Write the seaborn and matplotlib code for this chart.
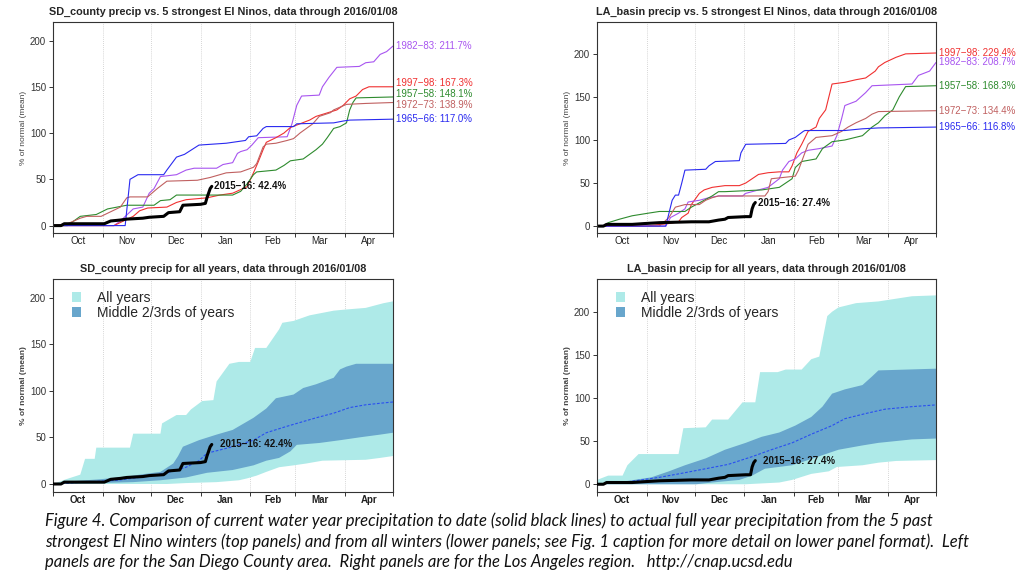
import numpy as np
import pandas as pd
import matplotlib
matplotlib.use("Agg")
import matplotlib.pyplot as plt
import seaborn as sns
from matplotlib.patches import Patch
from matplotlib.ticker import FixedLocator, NullFormatter, FixedFormatter

# ---------------- data (day of water year, 0 = Oct 1; values = % of normal) ----------------
month_edges = [0, 31, 61, 92, 123, 151, 182, 212]
month_mids = [15.5, 46, 76.5, 107.5, 137, 166.5, 197]
month_names = ["Oct", "Nov", "Dec", "Jan", "Feb", "Mar", "Apr"]
yticks = [0, 50, 100, 150, 200]

# --- San Diego County, 5 strongest El Ninos ---
sd_1982_days = [0, 38, 42, 50, 56, 60, 63, 67, 77, 83, 88, 102, 106, 112, 115, 117, 121, 124, 128, 146, 149, 152, 155, 166, 168, 172, 177, 191, 195, 200, 204, 208, 212]
sd_1982_vals = [0, 0, 5, 18, 20, 35, 40, 53, 55, 60, 62, 62, 66, 68, 78, 80, 82, 87, 95, 96, 110, 130, 140, 141, 150, 160, 171, 172, 176, 177, 185, 188, 194]
sd_1997_days = [0, 38, 44, 50, 54, 59, 71, 77, 83, 96, 104, 112, 121, 125, 128, 131, 133, 139, 144, 148, 154, 160, 164, 177, 181, 185, 189, 193, 197, 212]
sd_1997_vals = [0, 0, 5, 10, 16, 19, 20, 25, 28, 30, 33, 35, 42, 57, 69, 82, 90, 95, 100, 106, 110, 114, 118, 125, 130, 137, 140, 147, 150, 150]
sd_1957_days = [0, 9, 13, 17, 27, 34, 46, 63, 67, 73, 77, 112, 117, 121, 125, 127, 139, 144, 148, 156, 160, 164, 168, 171, 175, 179, 183, 185, 187, 189, 212]
sd_1957_vals = [0, 0, 5, 10, 12, 18, 22, 22, 27, 28, 33, 33, 37, 45, 55, 58, 60, 65, 70, 72, 77, 82, 88, 95, 105, 107, 111, 125, 133, 138, 139]
sd_1972_days = [0, 9, 17, 21, 30, 36, 42, 46, 48, 59, 65, 71, 90, 98, 108, 117, 125, 127, 131, 133, 139, 146, 150, 154, 162, 166, 173, 175, 183, 195, 212]
sd_1972_vals = [0, 2, 8, 10, 10, 15, 20, 30, 31, 31, 40, 48, 49, 52, 57, 58, 63, 67, 85, 88, 89, 92, 94, 100, 110, 118, 122, 125, 131, 132, 133]
sd_1965_days = [0, 45, 48, 53, 69, 71, 77, 82, 91, 108, 120, 122, 127, 131, 133, 150, 152, 175, 181, 185, 212]
sd_1965_vals = [0, 0, 50, 55, 55, 60, 74, 77, 87, 89, 92, 96, 97, 105, 107, 107, 110, 111, 113, 114, 115]
sd_2015_days = [0, 5, 7, 32, 36, 42, 46, 56, 60, 69, 72, 79, 81, 92, 95, 96, 98, 99]
sd_2015_vals = [0, 0, 2, 2, 5, 6, 7, 8, 9, 10, 14, 15, 22, 23, 24, 30, 40, 42.4]

# --- LA basin, 5 strongest El Ninos ---
la_1997_days = [0, 30, 45, 51, 53, 57, 59, 64, 67, 72, 80, 89, 93, 97, 101, 107, 114, 120, 122, 125, 128, 132, 137, 139, 141, 143, 145, 147, 155, 162, 168, 174, 176, 180, 187, 193, 212]
la_1997_vals = [0, 0, 3, 5, 10, 15, 25, 38, 42, 45, 47, 47, 50, 55, 60, 62, 63, 63, 70, 85, 95, 110, 115, 125, 130, 135, 150, 165, 167, 170, 172, 180, 185, 190, 196, 200, 201]
la_1982_days = [0, 43, 46, 51, 55, 57, 64, 70, 76, 91, 93, 101, 107, 114, 116, 120, 124, 128, 132, 139, 147, 150, 153, 155, 162, 168, 172, 197, 201, 208, 212]
la_1982_vals = [0, 0, 10, 15, 20, 28, 30, 33, 35, 35, 38, 42, 45, 55, 65, 75, 78, 85, 88, 90, 93, 105, 125, 140, 145, 155, 163, 165, 175, 180, 190]
la_1957_days = [0, 4, 7, 14, 22, 32, 39, 55, 59, 72, 76, 80, 103, 114, 118, 122, 124, 128, 137, 141, 147, 155, 166, 172, 176, 180, 185, 189, 193, 212]
la_1957_vals = [0, 0, 4, 8, 12, 15, 17, 17, 22, 35, 40, 40, 42, 45, 50, 55, 68, 75, 78, 90, 98, 100, 105, 115, 120, 128, 135, 150, 162, 163]
la_1972_days = [0, 39, 45, 49, 55, 64, 68, 72, 76, 105, 107, 109, 124, 126, 128, 132, 137, 147, 153, 157, 162, 168, 172, 176, 212]
la_1972_vals = [0, 0, 10, 22, 25, 25, 30, 33, 35, 35, 40, 55, 58, 65, 75, 95, 103, 105, 110, 115, 120, 125, 130, 133, 134]
la_1965_days = [0, 43, 45, 47, 49, 51, 53, 55, 68, 70, 74, 89, 90, 93, 118, 120, 124, 129, 130, 155, 166, 176, 212]
la_1965_vals = [0, 0, 15, 30, 36, 36, 50, 65, 66, 70, 75, 76, 85, 95, 96, 100, 103, 110, 111, 111, 113, 114, 115]
la_2015_days = [0, 4, 6, 22, 30, 39, 59, 70, 76, 80, 82, 93, 96, 97, 98, 99]
la_2015_vals = [0, 0, 2, 2, 3, 4, 5, 5, 7, 8, 10, 11, 11, 20, 25, 27.4]

# --- all-years envelopes ---
sd_all_hi_days = [0, 8, 17, 20, 26, 27, 48, 50, 67, 68, 77, 83, 86, 93, 100, 102, 110, 116, 123, 126, 133, 141, 143, 150, 160, 175, 181, 195, 206, 212]
sd_all_hi_vals = [0, 5, 10, 27, 27, 39, 39, 54, 54, 65, 74, 74, 80, 89, 90, 110, 129, 131, 131, 146, 146, 166, 173, 175, 181, 186, 187, 189, 194, 196]
sd_all_lo_days = [0, 71, 83, 102, 116, 121, 127, 133, 141, 150, 158, 168, 195, 204, 212]
sd_all_lo_vals = [0, 0, 1, 2, 4, 6, 9, 13, 18, 20, 22, 25, 26, 28, 30]
sd_mid_hi_days = [0, 12, 29, 46, 54, 67, 75, 78, 81, 91, 102, 112, 125, 133, 139, 150, 156, 164, 175, 179, 183, 189, 212]
sd_mid_hi_vals = [0, 3, 5, 8, 10, 13, 22, 30, 40, 47, 53, 58, 71, 81, 92, 96, 103, 107, 114, 123, 126, 129, 129]
sd_mid_lo_days = [0, 29, 50, 67, 83, 96, 112, 125, 133, 141, 148, 152, 166, 179, 191, 204, 212]
sd_mid_lo_vals = [0, 1, 2, 4, 7, 12, 15, 20, 25, 28, 35, 42, 44, 47, 50, 53, 55]
sd_mean_days = [0, 19, 40, 58, 71, 83, 91, 96, 112, 125, 133, 146, 154, 164, 175, 185, 195, 206, 212]
sd_mean_vals = [0, 2, 4, 8, 12, 18, 25, 33, 40, 47, 55, 62, 66, 71, 76, 82, 85, 87, 88]

la_all_hi_days = [0, 7, 16, 19, 26, 51, 54, 68, 72, 82, 91, 99, 102, 113, 118, 128, 134, 139, 144, 147, 151, 162, 176, 197, 212]
la_all_hi_vals = [5, 10, 10, 22, 35, 35, 65, 66, 75, 75, 95, 95, 130, 130, 133, 133, 145, 148, 195, 200, 205, 210, 212, 218, 219]
la_all_lo_days = [0, 93, 114, 122, 134, 145, 150, 166, 176, 187, 212]
la_all_lo_vals = [0, 0, 2, 5, 12, 15, 20, 22, 25, 27, 28]
la_mid_hi_days = [0, 16, 34, 45, 55, 68, 80, 93, 103, 114, 124, 134, 141, 147, 155, 166, 172, 176, 212]
la_mid_hi_vals = [0, 3, 8, 15, 22, 30, 40, 48, 55, 60, 68, 78, 90, 105, 110, 115, 125, 132, 134]
la_mid_lo_days = [0, 62, 72, 89, 97, 105, 122, 132, 143, 151, 166, 176, 197, 212]
la_mid_lo_vals = [0, 0, 2, 5, 10, 18, 22, 28, 35, 40, 45, 48, 52, 53]
la_mean_days = [0, 20, 39, 51, 68, 82, 97, 109, 122, 134, 147, 155, 168, 180, 197, 212]
la_mean_vals = [0, 3, 8, 12, 18, 23, 32, 40, 48, 58, 68, 76, 82, 87, 90, 92]

sd_labels = {"1982−83": "211.7%", "1997−98": "167.3%", "1957−58": "148.1%", "1972−73": "138.9%", "1965−66": "117.0%"}
la_labels = {"1997−98": "229.4%", "1982−83": "208.7%", "1957−58": "168.3%", "1972−73": "134.4%", "1965−66": "116.8%"}
sd_current = "2015−16: 42.4%"
la_current = "2015−16: 27.4%"

colors = {"1982−83": "#a855f0", "1997−98": "#f03030", "1957−58": "#2e8b2e",
          "1972−73": "#c06060", "1965−66": "#2a2af0"}
light_col = "#aeeae8"
dark_col = "#68a6cc"

sd_series = {"1982−83": (sd_1982_days, sd_1982_vals), "1997−98": (sd_1997_days, sd_1997_vals),
             "1957−58": (sd_1957_days, sd_1957_vals), "1972−73": (sd_1972_days, sd_1972_vals),
             "1965−66": (sd_1965_days, sd_1965_vals)}
la_series = {"1997−98": (la_1997_days, la_1997_vals), "1982−83": (la_1982_days, la_1982_vals),
             "1957−58": (la_1957_days, la_1957_vals), "1972−73": (la_1972_days, la_1972_vals),
             "1965−66": (la_1965_days, la_1965_vals)}

# ---------------- style ----------------
sns.set_style("white")
plt.rcParams["font.family"] = ["Liberation Sans", "DejaVu Sans"]

fig = plt.figure(figsize=(10.24, 5.76), dpi=100)
W, H = 1024, 576


def add_ax(l, t, r, b):
    return fig.add_axes([l / W, 1 - b / H, (r - l) / W, (b - t) / H])


ax_tl = add_ax(53, 22, 393, 233)
ax_tr = add_ax(597, 22, 936, 233)
ax_bl = add_ax(53, 279, 393, 492)
ax_br = add_ax(597, 279, 936, 492)


def style_axes(ax, ylim, title, bold):
    ax.set_xlim(0, 212)
    ax.set_ylim(*ylim)
    ax.xaxis.set_major_locator(FixedLocator(month_edges))
    ax.xaxis.set_major_formatter(NullFormatter())
    ax.xaxis.set_minor_locator(FixedLocator(month_mids))
    ax.xaxis.set_minor_formatter(FixedFormatter(month_names))
    ax.set_yticks(yticks)
    fw = "bold" if bold else "normal"
    ax.tick_params(axis="x", which="major", length=3, width=0.7, color="#333333", direction="out", bottom=True)
    ax.tick_params(axis="x", which="minor", length=0, labelsize=7, labelcolor="#222222", pad=2)
    ax.tick_params(axis="y", length=3, width=0.7, color="#333333", direction="out", left=True,
                   labelsize=7, labelcolor="#333333", pad=2)
    for lab in ax.xaxis.get_minorticklabels():
        lab.set_fontweight(fw)
    for x in month_edges[1:-1]:
        ax.axvline(x, color="#c8c8c8", lw=0.6, ls=(0, (1, 1.5)), zorder=0)
    for s in ax.spines.values():
        s.set_visible(True)
        s.set_color("#333333")
        s.set_linewidth(0.8)
    ax.set_ylabel("% of normal (mean)", fontsize=6, color="#444444", fontweight=fw, labelpad=2)
    ax.set_xlabel("")
    ax.set_title(title, fontsize=7.8, fontweight="bold", pad=5)


def top_panel(ax, series, labels, cur_days, cur_vals, cur_label, ylim, title, nudges):
    for name, (d, v) in series.items():
        sns.lineplot(x=d, y=v, ax=ax, color=colors[name], lw=0.8, estimator=None, sort=False)
        ax.text(214, v[-1] + nudges.get(name, 0), f"{name}: {labels[name]}", color=colors[name],
                fontsize=7, va="center", ha="left", clip_on=False)
    sns.lineplot(x=cur_days, y=cur_vals, ax=ax, color="black", lw=2.2, estimator=None, sort=False)
    ax.text(cur_days[-1] + 1.5, cur_vals[-1], cur_label, fontsize=7, fontweight="bold",
            va="center", ha="left", color="#111111")
    style_axes(ax, ylim, title, False)


def bottom_panel(ax, hi_d, hi_v, lo_d, lo_v, mhi_d, mhi_v, mlo_d, mlo_v, mean_d, mean_v,
                 cur_days, cur_vals, cur_label, ylim, title):
    ax.fill(np.concatenate([hi_d, lo_d[::-1]]), np.concatenate([hi_v, lo_v[::-1]]),
            color=light_col, lw=0, zorder=1)
    ax.fill(np.concatenate([mhi_d, mlo_d[::-1]]), np.concatenate([mhi_v, mlo_v[::-1]]),
            color=dark_col, lw=0, zorder=2)
    sns.lineplot(x=mean_d, y=mean_v, ax=ax, color="#2a4ff0", lw=0.8, ls=(0, (2.5, 1.5)),
                 estimator=None, sort=False, zorder=3)
    sns.lineplot(x=cur_days, y=cur_vals, ax=ax, color="black", lw=2.2, estimator=None,
                 sort=False, zorder=4)
    ax.text(cur_days[-1] + 5, cur_vals[-1], cur_label, fontsize=7, fontweight="bold",
            va="center", ha="left", color="#111111", zorder=5)
    handles = [Patch(facecolor=light_col, edgecolor="none", label="All years"),
               Patch(facecolor=dark_col, edgecolor="none", label="Middle 2/3rds of years")]
    ax.legend(handles=handles, loc="upper left", frameon=False, fontsize=10,
              handlelength=0.7, handleheight=0.7, handletextpad=1.1, labelspacing=0.1,
              borderaxespad=0.45, bbox_to_anchor=(0.02, 1.0))
    style_axes(ax, ylim, title, True)


top_panel(ax_tl, sd_series, sd_labels, sd_2015_days, sd_2015_vals, sd_current, (-8, 220),
          "SD_county precip vs. 5 strongest El Ninos, data through 2016/01/08",
          {"1997−98": 4, "1957−58": 3, "1972−73": -3})
top_panel(ax_tr, la_series, la_labels, la_2015_days, la_2015_vals, la_current, (-8, 237),
          "LA_basin precip vs. 5 strongest El Ninos, data through 2016/01/08", {})
bottom_panel(ax_bl, np.array(sd_all_hi_days), np.array(sd_all_hi_vals), np.array(sd_all_lo_days),
             np.array(sd_all_lo_vals), np.array(sd_mid_hi_days), np.array(sd_mid_hi_vals),
             np.array(sd_mid_lo_days), np.array(sd_mid_lo_vals), sd_mean_days, sd_mean_vals,
             sd_2015_days, sd_2015_vals, sd_current, (-8.6, 220),
             "SD_county precip for all years, data through 2016/01/08")
bottom_panel(ax_br, np.array(la_all_hi_days), np.array(la_all_hi_vals), np.array(la_all_lo_days),
             np.array(la_all_lo_vals), np.array(la_mid_hi_days), np.array(la_mid_hi_vals),
             np.array(la_mid_lo_days), np.array(la_mid_lo_vals), la_mean_days, la_mean_vals,
             la_2015_days, la_2015_vals, la_current, (-9, 238),
             "LA_basin precip for all years, data through 2016/01/08")

caption = [
    "Figure 4. Comparison of current water year precipitation to date (solid black lines) to actual full year precipitation from the 5 past",
    "strongest El Nino winters (top panels) and from all winters (lower panels; see Fig. 1 caption for more detail on lower panel format).  Left",
    "panels are for the San Diego County area.  Right panels are for the Los Angeles region.   http://cnap.ucsd.edu",
]
for i, line in enumerate(caption):
    fig.text(45 / W, 1 - (521 + 20.5 * i) / H, line, fontsize=12, style="italic",
             family=["Lato", "DejaVu Sans"], va="center", ha="left", color="#111111")

fig.savefig("out.png", dpi=100)
